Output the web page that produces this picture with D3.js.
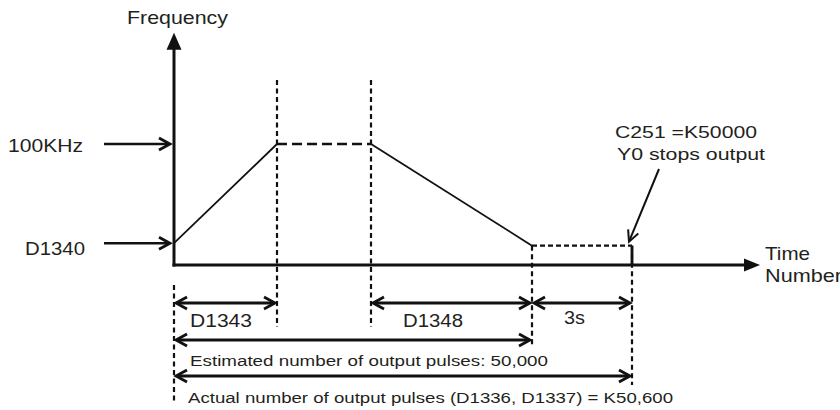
<!DOCTYPE html>
<meta charset="utf-8" />
<style>
    body { margin: 0; background: #fff; }
    text { font-family: "Liberation Sans", Arial, sans-serif; fill: #231f20; }
</style>
<svg width="840" height="410"></svg>
<script src="https://d3js.org/d3.v7.min.js"></script>
<script>
    // profile key points (time units, kHz)
    const times = [0, 10.3, 19.7, 35.8, 45.8];
    const freqs = [18, 100, 100, 16, 16];
    const axisEndT = 58.6;
    const axisTopF = 192;
    const levelLabels = ['100KHz', 'D1340'];
    const levelValues = [100, 18];
    const spanLabels = ['D1343', 'D1348', '3s'];
    const spanFrom = [0, 2, 3];
    const spanTo = [1, 3, 4];
    const pulseLabels = ['Estimated number of output pulses: 50,000',
        'Actual number of output pulses (D1336, D1337) = K50,600'];
    const pulseTo = [3, 4];
    const stopNote = ['C251 =K50000', 'Y0 stops output'];

    const svg = d3.select('svg');
    const x = d3.scaleLinear().domain([0, axisEndT]).range([174, 760]);
    const y = d3.scaleLinear().domain([0, 100]).range([265, 144]);

    const ink = '#111';

    function chevron(px, py, angle, len = 11, half = 6, sw = 2.8) {
        // angle: direction the arrow points to (radians)
        const c = Math.cos(angle), s = Math.sin(angle);
        const p1 = [px - len * c - half * -s, py - len * s - half * c];
        const p2 = [px - len * c + half * -s, py - len * s + half * c];
        svg.append('path')
            .attr('d', `M${p1}L${px},${py}L${p2}`)
            .attr('fill', 'none').attr('stroke', ink)
            .attr('stroke-width', sw).attr('stroke-linejoin', 'miter');
    }

    function line(x1, y1, x2, y2, sw, dash) {
        svg.append('line')
            .attr('x1', x1).attr('y1', y1).attr('x2', x2).attr('y2', y2)
            .attr('stroke', ink).attr('stroke-width', sw)
            .attr('stroke-dasharray', dash || null);
    }

    function label(txt, tx, ty, size, w) {
        svg.append('text')
            .attr('x', tx).attr('y', ty)
            .attr('font-size', size)
            .attr('textLength', w).attr('lengthAdjust', 'spacingAndGlyphs')
            .text(txt);
    }

    // vertical guide lines
    line(x(times[1]), 80, x(times[1]), 327, 2.2, '5,3.5');
    line(x(times[2]), 80, x(times[2]), 327, 2.2, '5,3.5');
    line(x(times[3]), y(freqs[3]), x(times[3]), 345, 2.2, '5,3.5');
    line(x(times[4]), y(freqs[4]), x(times[4]), 385, 2.2, '5,3.5');
    line(x(0), 285, x(0), 404, 2.2, '5,3.5');

    // frequency profile
    const pts = times.map((t, i) => [x(t), y(freqs[i])]);
    const solid = d3.line();
    svg.append('path').attr('d', solid([pts[0], pts[1]]))
        .attr('fill', 'none').attr('stroke', ink).attr('stroke-width', 1.8);
    svg.append('path').attr('d', solid([pts[1], pts[2]]))
        .attr('fill', 'none').attr('stroke', ink).attr('stroke-width', 2.5)
        .attr('stroke-dasharray', '10,5');
    svg.append('path').attr('d', solid([pts[2], pts[3]]))
        .attr('fill', 'none').attr('stroke', ink).attr('stroke-width', 1.8);
    svg.append('path').attr('d', solid([pts[3], pts[4]]))
        .attr('fill', 'none').attr('stroke', ink).attr('stroke-width', 2.2)
        .attr('stroke-dasharray', '5,3');
    line(x(times[4]), y(freqs[4]), x(times[4]), y(0), 2.8);

    // axes
    line(x(0), y(0) + 1.5, x(0), y(axisTopF) + 10, 3);
    svg.append('path')
        .attr('d', `M${x(0)},${y(axisTopF)}L${x(0) - 7.5},${y(axisTopF) + 17}L${x(0) + 7.5},${y(axisTopF) + 17}Z`)
        .attr('fill', ink);
    line(x(0) - 1.5, y(0), x(axisEndT) - 10, y(0), 3);
    svg.append('path')
        .attr('d', `M${x(axisEndT)},${y(0)}L${x(axisEndT) - 16},${y(0) - 6.5}L${x(axisEndT) - 16},${y(0) + 6.5}Z`)
        .attr('fill', ink);

    label('Frequency', 127, 24, 19, 101);
    label('Time', 765, 260, 19, 45);
    label('Number', 765, 282, 19, 77);

    // level arrows
    levelLabels.forEach((t, i) => {
        const ly = y(levelValues[i]);
        line(104, ly, 169, ly, 2.5);
        chevron(170, ly, 0);
    });
    label(levelLabels[0], 8, 152, 19, 75);
    label(levelLabels[1], 25, 255, 18, 60);

    // span arrows
    const spanY = 303;
    spanLabels.forEach((t, i) => {
        const a = x(times[spanFrom[i]]) + 2, b = x(times[spanTo[i]]) - 2;
        line(a + 1, spanY, b - 1, spanY, 2.8);
        chevron(a, spanY, Math.PI);
        chevron(b, spanY, 0);
    });
    label(spanLabels[0], 190, 327, 18, 62);
    label(spanLabels[1], 403, 327, 18, 60);
    label(spanLabels[2], 564, 324, 18, 21);

    // pulse-count arrows
    const pulseY = [340, 376];
    pulseLabels.forEach((t, i) => {
        const a = x(0) + 2, b = x(times[pulseTo[i]]) - 2;
        line(a + 1, pulseY[i], b - 1, pulseY[i], 2.8);
        chevron(a, pulseY[i], Math.PI);
        chevron(b, pulseY[i], 0);
    });
    label(pulseLabels[0], 190, 366, 14, 358);
    label(pulseLabels[1], 188, 403, 14, 485);

    // stop note
    label(stopNote[0], 615, 138, 16, 142);
    label(stopNote[1], 617, 160, 16, 148);
    const tip = [x(times[4]) - 3, y(freqs[4]) - 4];
    line(659, 169, tip[0], tip[1], 2);
    chevron(tip[0], tip[1], Math.atan2(tip[1] - 169, tip[0] - 659), 11, 5.5, 2);
</script>
